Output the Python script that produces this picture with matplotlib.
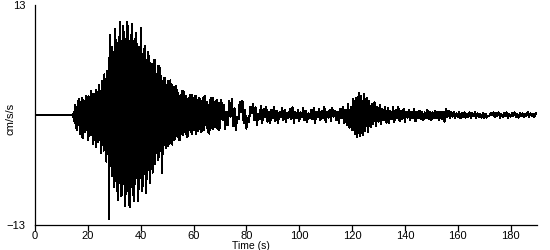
import numpy as np
import matplotlib
matplotlib.use("Agg")
import matplotlib.pyplot as plt

# Pre-event quiet segment (s, cm/s/s)
quiet_t = [0.0, 14.0]
quiet_v = [0.0, 0.0]

# Strong-motion segment: samples every 0.25 s from 14.0 s to 69.75 s
strong_start, strong_step = 14.0, 0.25
strong_v = [
    0.0, 0.1, -0.2, 0.3,
    -0.9, 1.2, -1.5, 1.0,
    -1.8, 1.6, -1.2, 1.9,
    -2.2, 1.5, -1.7, 2.0,
    -2.7, 1.8, -1.4, 1.6,
    -2.0, 2.3, -1.8, 1.4,
    -3.0, 2.2, -2.5, 1.9,
    -2.4, 2.8, -2.0, 2.5,
    -3.4, 2.5, -2.9, 2.2,
    -3.8, 3.0, -2.6, 2.7,
    -3.2, 3.6, -3.0, 2.8,
    -4.5, 4.0, -3.6, 3.2,
    -4.2, 4.8, -3.9, 4.3,
    -5.5, 5.2, -4.6, 4.9,
    -12.3, 9.5, -6.0, 6.8,
    -7.2, 8.0, -6.5, 7.5,
    -8.5, 10.2, -7.8, 8.9,
    -9.0, 8.5, -10.0, 9.2,
    -8.0, 11.0, -9.6, 8.7,
    -9.5, 10.5, -8.2, 9.8,
    -10.8, 9.0, -9.3, 11.0,
    -9.0, 10.5, -10.6, 8.8,
    -10.9, 9.5, -8.5, 10.8,
    -9.4, 8.8, -10.2, 9.0,
    -8.1, 9.7, -7.5, 8.4,
    -10.2, 8.0, -8.8, 7.6,
    -7.5, 10.3, -9.0, 7.0,
    -8.4, 7.8, -7.0, 8.2,
    -9.2, 6.5, -7.6, 7.4,
    -6.5, 7.0, -8.0, 6.1,
    -5.5, 6.0, -6.8, 5.4,
    -5.0, 6.5, -5.8, 4.9,
    -4.5, 4.8, -5.3, 5.8,
    -5.0, 5.5, -4.2, 4.6,
    -6.9, 4.0, -4.6, 4.4,
    -3.5, 4.4, -3.9, 3.6,
    -3.2, 4.0, -3.7, 3.4,
    -3.3, 4.1, -2.9, 3.5,
    -3.5, 3.0, -3.0, 3.3,
    -2.8, 3.4, -2.5, 2.9,
    -2.6, 2.6, -3.0, 2.2,
    -3.0, 2.4, -2.2, 2.8,
    -2.4, 2.8, -2.0, 2.3,
    -2.2, 2.2, -2.6, 1.9,
    -2.5, 2.0, -1.8, 2.4,
    -2.0, 2.4, -2.3, 1.7,
    -1.8, 2.0, -1.5, 2.3,
    -2.2, 1.8, -1.9, 1.4,
    -1.6, 2.0, -1.3, 1.7,
    -2.0, 1.6, -1.8, 2.1,
    -1.8, 2.2, -1.2, 1.5,
    -1.5, 1.5, -2.0, 1.2,
    -2.2, 1.8, -1.4, 2.0,
    -1.5, 2.0, -1.7, 1.3,
    -1.4, 1.6, -1.1, 1.8,
    -1.6, 1.2, -1.8, 1.4,
]

# Coda segment: samples every 0.5 s from 70 s to 189.5 s
coda_start, coda_step = 70.0, 0.5
coda_v = [
    -1.5, 1.8, -0.6, 1.2, -1.6, 0.4, -1.2, 1.6, -0.2, 1.9,
    -1.3, 0.8, -1.8, -0.2, -0.5, 1.5, 0.3, 1.7, -1.0, 0.6,
    -1.6, -0.4, -0.8, 1.0, 0.2, 1.3, -0.6, 0.9, -1.2, 0.1,
    -0.5, 1.1, -0.9, 0.7, -0.2, 1.0, -0.8, 0.4, -1.0, 0.6,
    -0.3, 0.9, -0.7, 0.5, -0.9, 0.3, -0.2, 0.8, -0.6, 0.6,
    -0.8, 0.2, -0.3, 0.7, -0.5, 0.9, -0.9, 0.4, -0.4, 0.6,
    -0.7, 0.3, -0.2, 0.8, -0.6, 0.5, -0.8, 0.2, -0.3, 0.6,
    -0.5, 0.8, -0.9, 0.4, -0.2, 0.7, -0.6, 0.5, -0.4, 0.9,
    -0.8, 0.3, -0.3, 0.6, -0.7, 0.8, -0.2, 0.5, -0.6, 0.4,
    -0.9, 0.7, -0.4, 1.0, -1.0, 0.6, -1.2, 1.3, -1.5, 1.0,
    -1.8, 1.9, -2.3, 2.0, -2.6, 2.6, -2.5, 2.2, -2.4, 2.5,
    -1.9, 2.0, -2.0, 1.6, -1.4, 1.3, -1.1, 1.5, -1.3, 0.9,
    -0.8, 1.2, -1.1, 0.7, -0.6, 1.0, -0.9, 0.8, -1.0, 0.5,
    -0.5, 0.9, -0.8, 0.6, -0.4, 1.0, -0.7, 0.5, -0.5, 0.7,
    -0.8, 0.3, -0.3, 0.6, -0.6, 0.4, -0.4, 0.7, -0.7, 0.3,
    -0.3, 0.5, -0.5, 0.4, -0.6, 0.3, -0.3, 0.6, -0.5, 0.4,
    -0.6, 0.3, -0.3, 0.5, -0.4, 0.3, -0.6, 0.4, -0.5, 0.3,
    -0.8, 0.7, -0.2, 0.5, -0.3, 0.4, -0.2, 0.3, -0.3, 0.2,
    -0.2, 0.3, -0.4, 0.2, -0.2, 0.3, -0.3, 0.1, -0.2, 0.3,
    -0.3, 0.2, -0.1, 0.3, -0.3, 0.2, -0.2, 0.1, -0.3, 0.2,
    -0.4, 0.1, -0.3, -0.1, -0.1, 0.2, 0.0, 0.3, -0.2, 0.2,
    -0.1, 0.3, -0.3, 0.1, -0.2, 0.2, -0.1, 0.3, -0.3, 0.1,
    -0.2, 0.2, -0.1, 0.3, -0.2, 0.1, -0.3, 0.2, -0.1, 0.2,
    -0.2, 0.1, -0.1, 0.3, -0.2, 0.2, -0.1, 0.1, -0.2, 0.2,
]

x_ticks = [0, 20, 40, 60, 80, 100, 120, 140, 160, 180]
y_ticks = [-13, 13]
x_label = "Time (s)"
y_label = "cm/s/s"

strong_t = strong_start + strong_step * np.arange(len(strong_v))
coda_t = coda_start + coda_step * np.arange(len(coda_v))
t = np.concatenate([quiet_t, strong_t, coda_t])
v = np.concatenate([quiet_v, strong_v, coda_v])

plt.rcParams["font.family"] = ["Liberation Sans", "DejaVu Sans"]
fig = plt.figure(figsize=(5.5, 2.5), dpi=100)
ax = fig.add_axes([35 / 550, 1 - 225 / 250, (537 - 35) / 550, 220 / 250])
ax.plot(t, v, color="black", lw=0.8, antialiased=False)
ax.set_xlim(0, 190)
ax.set_ylim(-13, 13)
for s in ("top", "right"):
    ax.spines[s].set_visible(False)
for s in ("left", "bottom"):
    ax.spines[s].set_linewidth(0.9)
ax.set_xticks(x_ticks)
ax.set_yticks(y_ticks)
ax.tick_params(axis="x", direction="out", length=4, width=0.9, labelsize=8, pad=0.5)
ax.tick_params(axis="y", length=0, labelsize=8, pad=7)
ax.set_xlabel(x_label, fontsize=7.5)
ax.xaxis.set_label_coords(0.43, -0.074)
ax.set_ylabel(y_label, fontsize=8)
ax.yaxis.set_label_coords(-0.038, 0.48)
fig.savefig("out.png", dpi=100)
